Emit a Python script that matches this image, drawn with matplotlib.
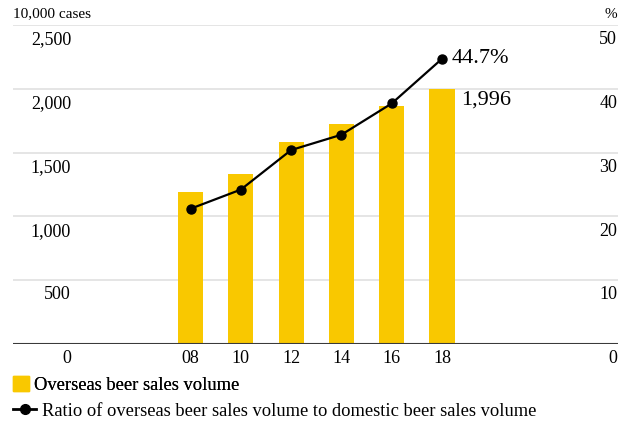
import matplotlib.pyplot as plt
from matplotlib.lines import Line2D
from matplotlib.patches import Patch
import matplotlib.transforms as mtransforms

years = ["08", "10", "12", "14", "16", "18"]
volume = [1190, 1332, 1583, 1724, 1865, 1996]   # 10,000 cases
ratio = [21.2, 24.2, 30.4, 32.8, 37.7, 44.7]    # %

left_ticks = [0, 500, 1000, 1500, 2000, 2500]
left_labels = ["0", "500", "1,000", "1,500", "2,000", "2,500"]
right_ticks = [0, 10, 20, 30, 40, 50]
right_labels = ["0", "10", "20", "30", "40", "50"]

yellow = "#F9C800"
plt.rcParams["font.family"] = ["Liberation Serif", "DejaVu Serif"]

fig = plt.figure(figsize=(6.3, 4.26), dpi=100)
ax = fig.add_axes([13 / 630, 1 - 344 / 426, 605 / 630, 319 / 426])
ax2 = ax.twinx()

x = list(range(len(years)))
ax.bar(x, volume, width=0.5, color=yellow, zorder=2)
ax2.plot(x, ratio, color="black", lw=1.6, marker="o", ms=6.5, zorder=3)

ax.set_xlim(-3.53, 8.5)
ax.set_ylim(0, 2500)
ax2.set_ylim(0, 50)

for a in (ax, ax2):
    for s in a.spines.values():
        s.set_visible(False)
    a.set_yticks([])
    a.tick_params(length=0)
ax.set_xticks([])
ax2.set_zorder(ax.get_zorder() + 1)
ax2.patch.set_visible(False)

# gridlines and baseline
for v in left_ticks[1:]:
    ax.axhline(v, color="#e0e0e0", lw=1.2, zorder=1)
ax.axhline(0, color="#3a3a3a", lw=1.5, zorder=4)

# tick labels sit just beneath each line
off = mtransforms.ScaledTranslation(0, -4.5 / 72, fig.dpi_scale_trans)
tl = mtransforms.blended_transform_factory(fig.transFigure, ax.transData) + off
tr = mtransforms.blended_transform_factory(fig.transFigure, ax2.transData) + off
for v, s in zip(left_ticks, left_labels):
    ax.text(71 / 630, v, s, transform=tl, ha="right", va="top", fontsize=13)
for v, s in zip(right_ticks, right_labels):
    ax2.text(617 / 630, v, s, transform=tr, ha="right", va="top", fontsize=13)
tx = mtransforms.blended_transform_factory(ax.transData, ax.transAxes) + off
for xi, s in zip(x, years):
    ax.text(xi, 0, s, transform=tx, ha="center", va="top", fontsize=13)

# value callouts
ax.annotate(f"{volume[-1]:,}", (x[-1] + 0.25, volume[-1]), xytext=(5, -1),
            textcoords="offset points", ha="left", va="top", fontsize=16)
ax2.annotate(f"{ratio[-1]}%", (x[-1], ratio[-1]), xytext=(7, 0),
             textcoords="offset points", ha="left", va="center", fontsize=16)

fig.text(13 / 630, 1 - 14 / 426, "10,000 cases", ha="left", va="center", fontsize=11)
fig.text(617 / 630, 1 - 14 / 426, "%", ha="right", va="center", fontsize=11)

# two single-entry legends so each handle gets its own size
leg_kw = dict(loc="center left", frameon=False, fontsize=13.3, borderpad=0,
              borderaxespad=0)
leg1 = fig.legend([Patch(color=yellow)], ["Overseas beer sales volume"],
                  bbox_to_anchor=(13 / 630, 1 - 385 / 426), handlelength=0.87,
                  handleheight=0.87, handletextpad=0.25, **leg_kw)
fig.legend([Line2D([0], [0], color="black", lw=2, marker="o", ms=7)],
           ["Ratio of overseas beer sales volume to domestic beer sales volume"],
           bbox_to_anchor=(13 / 630, 1 - 411 / 426), handlelength=1.25,
           handletextpad=0.3, **leg_kw)
fig.add_artist(leg1)

fig.savefig("out.png", dpi=100)
